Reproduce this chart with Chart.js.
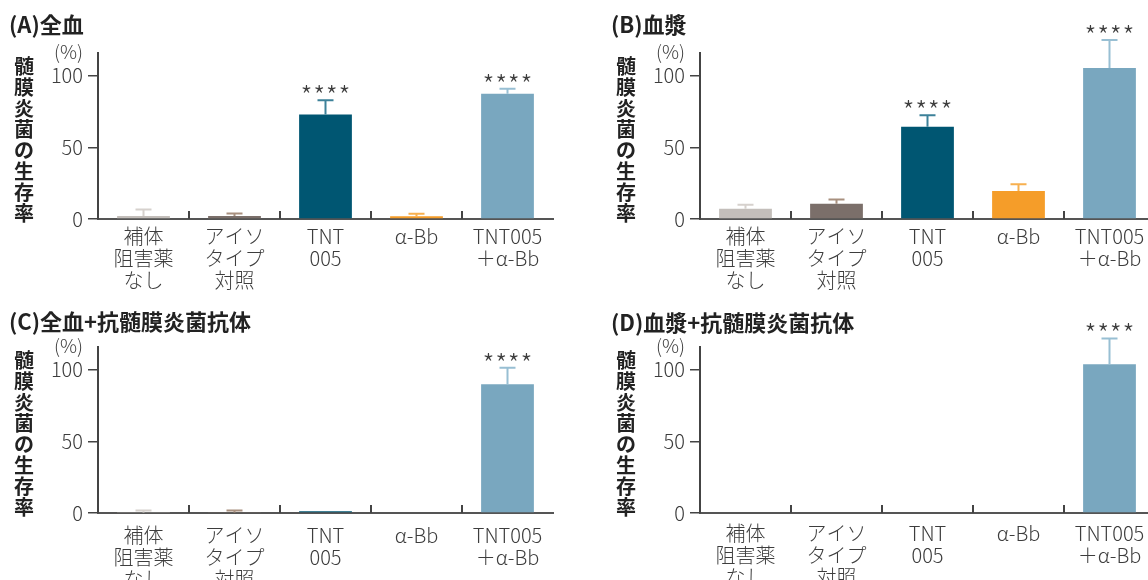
<!DOCTYPE html>
<html lang="ja">
<head>
<meta charset="UTF-8">
<title>髄膜炎菌の生存率</title>
<script src="https://cdn.jsdelivr.net/npm/chart.js"></script>
<style>
    body {
        margin: 0;
        width: 1148px;
        height: 580px;
        overflow: hidden;
        position: relative;
        background: #fff;
    }

    canvas {
        position: absolute;
    }
</style>
</head>
<body>
<canvas id="chartA" width="574" height="290" style="left:0;top:0"></canvas>
<canvas id="chartB" width="574" height="290" style="left:602px;top:0"></canvas>
<canvas id="chartC" width="574" height="290" style="left:0;top:294px"></canvas>
<canvas id="chartD" width="574" height="290" style="left:602px;top:294px"></canvas>

<script>
    const groups = [['補体', '阻害薬', 'なし'], ['アイソ', 'タイプ', '対照'], ['TNT', '005'], ['α-Bb'], ['TNT005', '＋α-Bb']];
    const barColors = ['#c3beba', '#7b6f6a', '#005672', '#f59d29', '#79a7bf'];
    const errColors = ['#d6d1cd', '#a8907f', '#3d8199', '#f7b04f', '#98bfd3'];
    const yTicks = [0, 50, 100];

    // survival (%) mean, SD and significance marks per panel
    const wholeBlood = [2.1, 2.1, 73, 2, 87.5];
    const wholeBloodErr = [4.6, 1.8, 10, 1.7, 3.5];
    const wholeBloodSig = ['', '', '****', '', '****'];

    const plasma = [7.2, 10.7, 64.5, 19.5, 105.5];
    const plasmaErr = [2.8, 3, 8, 4.7, 19.5];
    const plasmaSig = ['', '', '****', '', '****'];

    const wholeBloodAb = [0.3, 0.3, 1.2, 0, 90];
    const wholeBloodAbErr = [1.5, 1.5, 0, 0, 11.5];
    const wholeBloodAbSig = ['', '', '', '', '****'];

    const plasmaAb = [0, 0, 0, 0, 104];
    const plasmaAbErr = [0, 0, 0, 0, 18];
    const plasmaAbSig = ['', '', '', '', '****'];

    const FONT = '"Noto Sans CJK JP", "Noto Sans", sans-serif';
    const AXIS = '#444';
    const TEXT = '#3d3d3d';

    const panelDecor = {
        id: 'panelDecor',
        afterDatasetsDraw(chart, args, opts) {
            const { ctx, scales: { y } } = chart;
            const meta = chart.getDatasetMeta(0);
            ctx.save();
            meta.data.forEach((bar, i) => {
                const err = opts.err[i];
                const top = y.getPixelForValue(opts.values[i] + err);
                if (err > 0) {
                    ctx.strokeStyle = errColors[i];
                    ctx.lineWidth = 2;
                    ctx.beginPath();
                    ctx.moveTo(bar.x, bar.y);
                    ctx.lineTo(bar.x, top);
                    ctx.moveTo(bar.x - 8, top);
                    ctx.lineTo(bar.x + 8, top);
                    ctx.stroke();
                }
                const sig = opts.sig[i];
                if (sig) {
                    ctx.fillStyle = TEXT;
                    ctx.font = '300 27px ' + FONT;
                    ctx.textAlign = 'center';
                    ctx.textBaseline = 'alphabetic';
                    const m = ctx.measureText('*');
                    const shift = (m.actualBoundingBoxAscent - m.actualBoundingBoxDescent) / 2;
                    const step = 12.7;
                    for (let k = 0; k < sig.length; k++) {
                        const cx = bar.x + (k - (sig.length - 1) / 2) * step;
                        ctx.fillText('*', cx, top - 11 + shift);
                    }
                }
            });
            ctx.restore();
        },
        afterDraw(chart, args, opts) {
            const { ctx, chartArea, scales: { x } } = chart;
            ctx.save();

            // panel heading
            ctx.fillStyle = '#222';
            ctx.font = 'bold 22px ' + FONT;
            ctx.textAlign = 'left';
            ctx.textBaseline = 'middle';
            ctx.fillText(opts.title, 9, opts.titleY);

            // upright stacked y-axis title
            ctx.font = 'bold 20px ' + FONT;
            ctx.textAlign = 'center';
            [...'髄膜炎菌の生存率'].forEach((ch, i) => {
                ctx.fillText(ch, chartArea.left - 74, 66 + i * 21);
            });

            // unit label
            ctx.fillStyle = TEXT;
            ctx.font = '300 19px ' + FONT;
            ctx.textAlign = 'right';
            ctx.fillText('(%)', chartArea.left - 15, 52);

            // tick marks between categories, pointing up
            ctx.strokeStyle = AXIS;
            ctx.lineWidth = 2;
            ctx.beginPath();
            for (let i = 1; i < groups.length; i++) {
                const bx = (x.getPixelForValue(i - 1) + x.getPixelForValue(i)) / 2;
                ctx.moveTo(bx, chartArea.bottom - 8);
                ctx.lineTo(bx, chartArea.bottom);
            }
            ctx.stroke();
            ctx.restore();
        }
    };

    function makePanel(id, title, titleY, labelPad, values, err, sig) {
        return new Chart(document.getElementById(id), {
            type: 'bar',
            data: {
                labels: groups,
                datasets: [{
                    data: values,
                    backgroundColor: barColors,
                    borderWidth: 0,
                    categoryPercentage: 1,
                    barPercentage: 0.58
                }]
            },
            options: {
                responsive: false,
                animation: false,
                layout: { padding: { top: 53, right: 21, bottom: 0, left: 0 } },
                scales: {
                    x: {
                        grid: { display: false, drawTicks: false },
                        border: { color: '#555', width: 2 },
                        ticks: {
                            color: TEXT,
                            padding: labelPad,
                            maxRotation: 0,
                            autoSkip: false,
                            font: { family: FONT, size: 20, weight: 300, lineHeight: 1.08 }
                        },
                        afterFit: (s) => { s.height = 71; }
                    },
                    y: {
                        min: 0,
                        max: 116,
                        grid: { drawOnChartArea: false, tickLength: 10, color: AXIS, lineWidth: 1.5 },
                        border: { color: AXIS, width: 2 },
                        ticks: {
                            color: TEXT,
                            padding: 5,
                            font: { family: FONT, size: 20, weight: 300 }
                        },
                        afterBuildTicks: (s) => { s.ticks = yTicks.map(v => ({ value: v })); },
                        afterFit: (s) => { s.width = 98; }
                    }
                },
                plugins: {
                    legend: { display: false },
                    tooltip: { enabled: false },
                    panelDecor: { title, titleY, values, err, sig }
                }
            },
            plugins: [panelDecor]
        });
    }

    makePanel('chartA', '(A)全血', 25, 7, wholeBlood, wholeBloodErr, wholeBloodSig);
    makePanel('chartB', '(B)血漿', 25, 7, plasma, plasmaErr, plasmaSig);
    makePanel('chartC', '(C)全血+抗髄膜炎菌抗体', 28, 12, wholeBloodAb, wholeBloodAbErr, wholeBloodAbSig);
    makePanel('chartD', '(D)血漿+抗髄膜炎菌抗体', 29, 10, plasmaAb, plasmaAbErr, plasmaAbSig);
</script>
</body>
</html>
